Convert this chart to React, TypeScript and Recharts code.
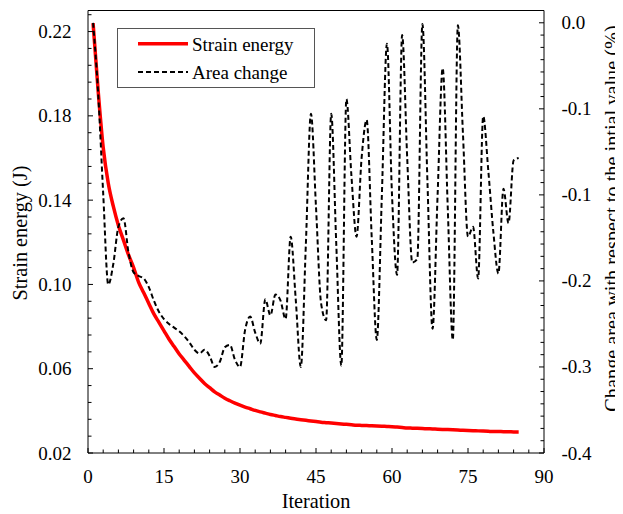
import React from 'react';
import { LineChart, Line, XAxis, YAxis, Legend, ReferenceLine } from 'recharts';

const FONT = 'Liberation Serif';

const iterations = [
  1, 2, 3, 4, 5, 6, 7, 8, 9, 10, 11, 12, 13, 14, 15, 16, 17, 18, 19, 20,
  21, 22, 23, 24, 25, 26, 27, 28, 29, 30, 31, 32, 33, 34, 35, 36, 37, 38, 39, 40,
  41, 42, 43, 44, 45, 46, 47, 48, 49, 50, 51, 52, 53, 54, 55, 56, 57, 58, 59, 60,
  61, 62, 63, 64, 65, 66, 67, 68, 69, 70, 71, 72, 73, 74, 75, 76, 77, 78, 79, 80,
  81, 82, 83, 84, 85,
];

const strainEnergy = [
  0.224, 0.192, 0.165, 0.148, 0.137, 0.128, 0.121, 0.114, 0.108, 0.101,
  0.096, 0.091, 0.086, 0.082, 0.078, 0.074, 0.0705, 0.067, 0.064, 0.061,
  0.058, 0.0555, 0.053, 0.051, 0.049, 0.0475, 0.046, 0.0448, 0.0437, 0.0427,
  0.0418, 0.041, 0.0402, 0.0395, 0.0389, 0.0383, 0.0378, 0.0373, 0.0369, 0.0365,
  0.0361, 0.0358, 0.0355, 0.0352, 0.0349, 0.0346, 0.0344, 0.0342, 0.034, 0.0338,
  0.0336, 0.0334, 0.0332, 0.0331, 0.033, 0.0329, 0.0328, 0.0327, 0.0326, 0.0325,
  0.0323, 0.0321, 0.0319, 0.0318, 0.0317, 0.0316, 0.0315, 0.0314, 0.0313, 0.0312,
  0.0311, 0.031, 0.0309, 0.0308, 0.0307, 0.0306, 0.0305, 0.0304, 0.0303, 0.0302,
  0.0302, 0.0301, 0.0301, 0.03, 0.03,
];

const areaChange = [
  0.0, -0.057, -0.139, -0.213, -0.196, -0.166, -0.159, -0.187, -0.203, -0.206,
  -0.208, -0.215, -0.226, -0.235, -0.241, -0.245, -0.248, -0.251, -0.255, -0.26,
  -0.266, -0.269, -0.266, -0.271, -0.28, -0.276, -0.264, -0.262, -0.274, -0.28,
  -0.25, -0.239, -0.252, -0.261, -0.225, -0.238, -0.221, -0.226, -0.241, -0.174,
  -0.225, -0.28, -0.18, -0.074, -0.15, -0.228, -0.242, -0.074, -0.18, -0.279,
  -0.062, -0.125, -0.174, -0.11, -0.079, -0.175, -0.258, -0.14, -0.017, -0.14,
  -0.205, -0.01, -0.11, -0.195, -0.192, -0.001, -0.13, -0.249, -0.14, -0.037,
  -0.15, -0.258, -0.002, -0.09, -0.174, -0.166, -0.208, -0.076, -0.12, -0.17,
  -0.204, -0.135, -0.163, -0.112, -0.11,
];

const xTicks = [0, 3, 6, 9, 12, 15, 18, 21, 24, 27, 30, 33, 36, 39, 42, 45, 48, 51, 54, 57, 60, 63, 66, 69, 72, 75, 78, 81, 84, 87, 90];
const xMajorTicks = [0, 15, 30, 45, 60, 75, 90];

const leftDomain = [0.02, 0.23];
const leftTicks = Array.from({ length: 27 }, (_, k) => Number((0.02 + 0.008 * k).toFixed(3)));
const leftMajorTicks = [0.02, 0.06, 0.1, 0.14, 0.18, 0.22];

const rightDomain = [-0.35, 0.01];
const rightTicks = Array.from({ length: 37 }, (_, k) => Number((-0.35 + 0.01 * k).toFixed(2)));
const rightMajorTicks = [-0.35, -0.28, -0.21, -0.14, -0.07, 0];
const rightTickLabels = ['-0.4', '-0.3', '-0.2', '-0.1', '-0.1', '0.0'];

const seriesNames = ['Strain energy', 'Area change'];
const axisTitles = ['Iteration', 'Strain energy (J)', 'Change area with respect to the intial value (%)'];

const data = iterations.map((it, i) => ({ it, se: strainEnergy[i], ac: areaChange[i] }));

const near = (a: number, b: number) => Math.abs(a - b) < 1e-6;

const textStyle = { fontFamily: 'Liberation Serif, serif', fontSize: 19 };
const titleStyle = { fontFamily: 'Liberation Serif, serif', fontSize: 20.3 };

function XTick(props: any) {
  const { x, y, payload } = props;
  const v = payload.value;
  const major = xMajorTicks.some((m) => near(m, v));
  return (
    <g>
      <line x1={x} y1={y} x2={x} y2={y - (major ? 5 : 3.5)} stroke="#000" strokeWidth={1} />
      {major && (
        <text x={x} y={y + 30} textAnchor="middle" style={textStyle} fontFamily={FONT} fill="#000">
          {v}
        </text>
      )}
    </g>
  );
}

function LeftTick(props: any) {
  const { x, y, payload } = props;
  const v = payload.value;
  const major = leftMajorTicks.some((m) => near(m, v));
  return (
    <g>
      <line x1={x} y1={y} x2={x + (major ? 5 : 3.5)} y2={y} stroke="#000" strokeWidth={1} />
      {major && (
        <text x={x - 16.5} y={y + 6.5} textAnchor="end" style={textStyle} fontFamily={FONT} fill="#000">
          {v.toFixed(2)}
        </text>
      )}
    </g>
  );
}

function RightTick(props: any) {
  const { x, y, payload } = props;
  const v = payload.value;
  const idx = rightMajorTicks.findIndex((m) => near(m, v));
  const major = idx >= 0;
  return (
    <g>
      <line x1={x} y1={y} x2={x - (major ? 5 : 3.5)} y2={y} stroke="#000" strokeWidth={1} />
      {major && (
        <text x={x + 17.5} y={y + 6.5} textAnchor="start" style={textStyle} fontFamily={FONT} fill="#000">
          {rightTickLabels[idx]}
        </text>
      )}
    </g>
  );
}

function LegendBox() {
  return (
    <svg width={198} height={60} style={{ display: 'block' }}>
      <rect x={0.5} y={0.5} width={197} height={59} fill="#fff" stroke="#555" strokeWidth={1} />
      <line x1={21} x2={71} y1={15.7} y2={15.7} stroke="#ff0000" strokeWidth={3.5} />
      <text x={75} y={22.5} style={textStyle} fontFamily={FONT} fill="#000">{seriesNames[0]}</text>
      <line x1={21} x2={71} y1={44} y2={44} stroke="#000" strokeWidth={2} strokeDasharray="5 3" />
      <text x={75} y={51} style={textStyle} fontFamily={FONT} fill="#000">{seriesNames[1]}</text>
    </svg>
  );
}

export default function App() {
  return (
    <div style={{ width: 615, height: 506, fontFamily: 'Liberation Serif, serif' }}>
      <LineChart width={615} height={506} data={data} margin={{ top: 2.5, right: 0, bottom: 0, left: 0 }}>
        <XAxis
          dataKey="it"
          type="number"
          domain={[0, 90]}
          ticks={xTicks}
          interval={0}
          tickSize={0}
          tickMargin={0}
          tickLine={false}
          tick={<XTick />}
          height={61}
          stroke="#000"
          label={{
            value: axisTitles[0],
            content: (p: any) => {
              const vb = p.viewBox || { x: 80, y: 445, width: 456, height: 61 };
              return (
                <text x={vb.x + vb.width / 2} y={vb.y + 55} textAnchor="middle" style={titleStyle} fontFamily={FONT} fill="#000">
                  {axisTitles[0]}
                </text>
              );
            },
          }}
        />
        <YAxis
          yAxisId="left"
          orientation="left"
          type="number"
          domain={leftDomain}
          ticks={leftTicks}
          interval={0}
          tickSize={0}
          tickMargin={0}
          tickLine={false}
          tick={<LeftTick />}
          width={80}
          stroke="#000"
          label={{
            value: axisTitles[1],
            content: () => (
              <text x={18.5} y={225} transform="rotate(-90, 18.5, 225)" textAnchor="middle" style={titleStyle} fontFamily={FONT} fill="#000">
                {axisTitles[1]}
              </text>
            ),
          }}
        />
        <YAxis
          yAxisId="right"
          orientation="right"
          type="number"
          domain={rightDomain}
          ticks={rightTicks}
          interval={0}
          tickSize={0}
          tickMargin={0}
          tickLine={false}
          tick={<RightTick />}
          width={79}
          stroke="#000"
          label={{
            value: axisTitles[2],
            content: () => (
              <text x={611} y={210.5} transform="rotate(-90, 611, 210.5)" textAnchor="middle" style={titleStyle} fontFamily={FONT} fill="#000">
                {axisTitles[2]}
              </text>
            ),
          }}
        />
        <ReferenceLine yAxisId="left" y={0.23} stroke="#000" strokeWidth={1} />
        <Legend
          layout="vertical"
          align="center"
          verticalAlign="middle"
          wrapperStyle={{ position: 'absolute', left: 109, top: 20, width: 198, height: 60 }}
          content={() => <LegendBox />}
        />
        <Line
          yAxisId="left"
          dataKey="se"
          name={seriesNames[0]}
          type="monotone"
          stroke="#ff0000"
          strokeWidth={3.5}
          dot={false}
          isAnimationActive={false}
        />
        <Line
          yAxisId="right"
          dataKey="ac"
          name={seriesNames[1]}
          type="monotone"
          stroke="#000"
          strokeWidth={2}
          strokeDasharray="5 3"
          dot={false}
          isAnimationActive={false}
        />
      </LineChart>
    </div>
  );
}
